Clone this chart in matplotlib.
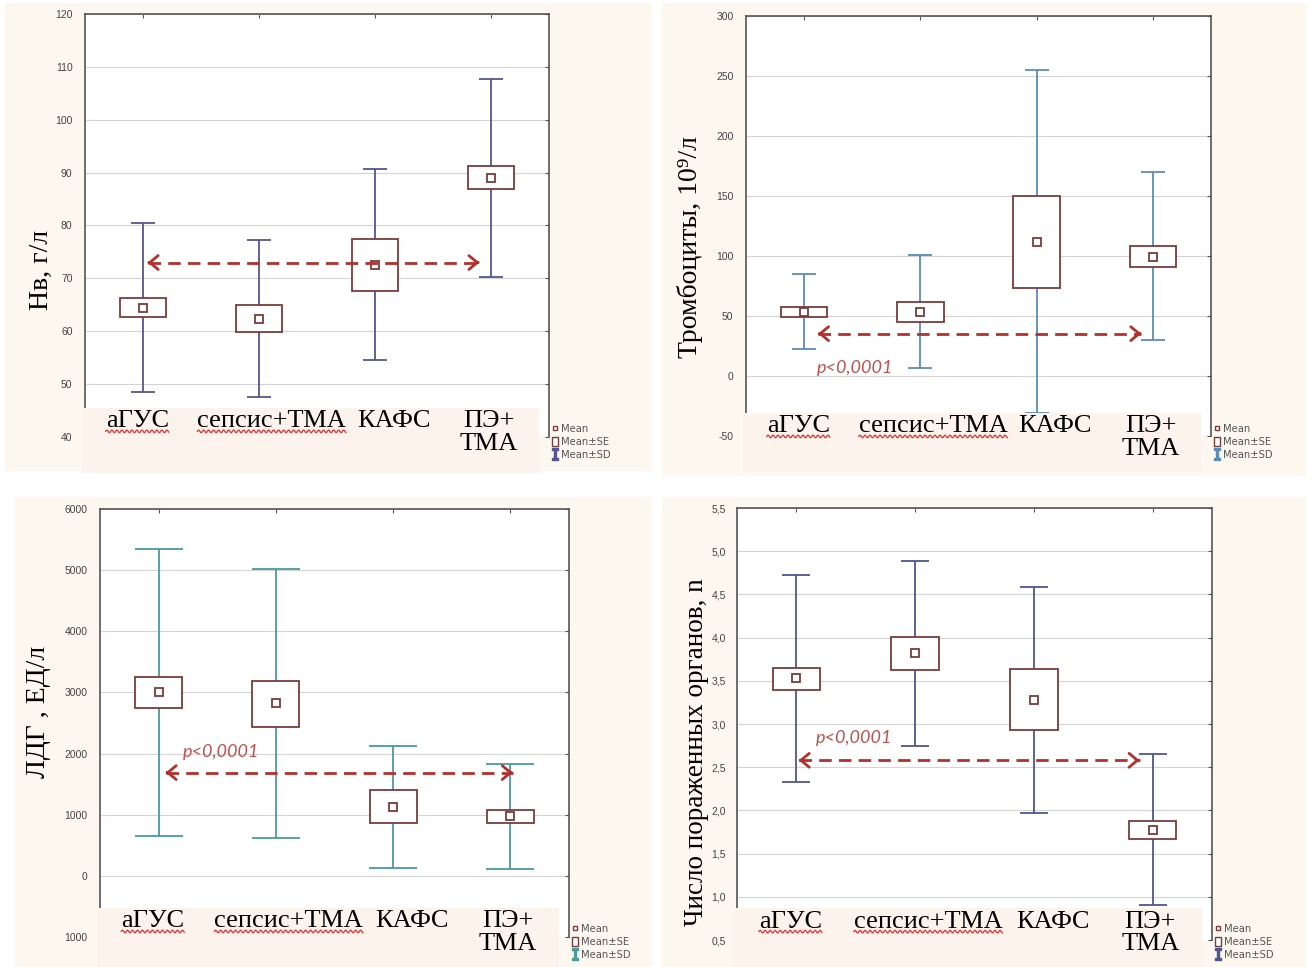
import numpy as np
import matplotlib

matplotlib.use("Agg")
import matplotlib.pyplot as plt  # noqa: E402
from matplotlib.patches import Rectangle  # noqa: E402
from matplotlib.lines import Line2D  # noqa: E402
from matplotlib.transforms import IdentityTransform  # noqa: E402

W, H = 1311, 967

categories = ["аГУС", "сепсис+ТМА", "КАФС", "ПЭ+\nТМА"]
x_pos = [1, 2, 3, 4]
label_dx = [-0.05, 0.11, 0.16, -0.02]
underlined = [0, 1]

# Hb, g/l
hb_mean = [64.4, 62.3, 72.5, 89.0]
hb_se_lo = [62.7, 59.9, 67.7, 86.9]
hb_se_hi = [66.2, 64.9, 77.5, 91.3]
hb_sd_lo = [48.5, 47.6, 54.5, 70.2]
hb_sd_hi = [80.5, 77.2, 90.6, 107.7]
hb_ticks = [40, 50, 60, 70, 80, 90, 100, 110, 120]
hb_ticklabels = [str(t) for t in hb_ticks]

# platelets, 10^9/l
plt_mean = [53.3, 53.6, 111.9, 99.2]
plt_se_lo = [49.4, 45.3, 73.6, 91.1]
plt_se_hi = [57.8, 61.9, 149.7, 108.3]
plt_sd_lo = [22.2, 6.9, -30.6, 30.0]
plt_sd_hi = [84.7, 100.6, 254.7, 170.0]
plt_ticks = [-50, 0, 50, 100, 150, 200, 250, 300]
plt_ticklabels = [str(t) for t in plt_ticks]

# LDH, U/l
ldh_mean = [3000, 2825, 1126, 973]
ldh_se_lo = [2738, 2437, 869, 869]
ldh_se_hi = [3257, 3186, 1399, 1082]
ldh_sd_lo = [645, 617, 131, 115]
ldh_sd_hi = [5350, 5022, 2126, 1836]
ldh_ticks = [-1000, 0, 1000, 2000, 3000, 4000, 5000, 6000]
ldh_ticklabels = ["1000", "0", "1000", "2000", "3000", "4000", "5000", "6000"]

# number of affected organs
org_mean = [3.53, 3.82, 3.28, 1.77]
org_se_lo = [3.39, 3.63, 2.93, 1.67]
org_se_hi = [3.65, 4.01, 3.64, 1.88]
org_sd_lo = [2.33, 2.75, 1.97, 0.91]
org_sd_hi = [4.72, 4.89, 4.59, 2.65]
org_ticks = [0.5, 1.0, 1.5, 2.0, 2.5, 3.0, 3.5, 4.0, 4.5, 5.0, 5.5]
org_ticklabels = [f"{t:.1f}".replace(".", ",") for t in org_ticks]

BOX_C = "#7b3b3b"
ARROW_C = "#b3302c"
P_C = "#c0504d"
BG_C = "#fcf8ef"
BAND_C = "#fcf3ed"
SERIF = ["Liberation Serif", "DejaVu Serif"]


def frect(l, t, r, b):
    return [l / W, 1 - b / H, (r - l) / W, (b - t) / H]


def panel(fig, px, ylim, ticks, ticklabels, mean, se_lo, se_hi, sd_lo, sd_hi,
          wc, capsize, ylabel, ylab_xy, arrow_y, arrow_x, ptext, band_top, leg_y,
          ylab_size=20, tick_pad=9):
    ax = fig.add_axes(frect(*px))
    ax.set_facecolor("white")
    ax.set_xlim(0.5, 4.5)
    ax.set_ylim(*ylim)
    ax.set_yticks(ticks)
    ax.set_yticklabels(ticklabels, fontsize=7.5, color="#444444",
                       family="Liberation Sans")
    ax.set_xticks(x_pos)
    ax.set_xticklabels([])
    ax.tick_params(axis="y", left=False, right=True, direction="in", length=3,
                   pad=tick_pad, color="#555555")
    ax.tick_params(axis="x", bottom=False, top=True, direction="in", length=3,
                   color="#555555")
    ax.grid(axis="y", color="#d4d4d4", lw=0.8)
    ax.set_axisbelow(True)
    for s in ax.spines.values():
        s.set_color("#555555")
        s.set_linewidth(1.2)
    ax.spines["bottom"].set_visible(False)

    mean = np.array(mean)
    ax.errorbar(x_pos, mean, yerr=[mean - np.array(sd_lo), np.array(sd_hi) - mean],
                fmt="none", ecolor=wc, elinewidth=1.3, capsize=capsize,
                capthick=1.3, zorder=2)
    for x, lo, hi in zip(x_pos, se_lo, se_hi):
        ax.add_patch(Rectangle((x - 0.2, lo), 0.4, hi - lo, facecolor="white",
                               edgecolor=BOX_C, lw=1.3, zorder=3))
    ax.plot(x_pos, mean, "s", ms=5.5, mfc="white", mec=BOX_C, mew=1.3, zorder=4)

    # significance arrow
    ax.plot(arrow_x, [arrow_y, arrow_y], color=ARROW_C, lw=2.0, dashes=(4.5, 2.6),
            zorder=5)
    for xa, d in ((arrow_x[0], 0.04), (arrow_x[1], -0.04)):
        ax.annotate("", xy=(xa, arrow_y), xytext=(xa + d, arrow_y),
                    arrowprops=dict(arrowstyle="->,head_length=0.6,head_width=0.5",
                                    color=ARROW_C, lw=2.0), zorder=5)
    if ptext is not None:
        ax.text(ptext[0], ptext[1], "p<0,0001", color=P_C, style="italic",
                fontsize=13, family=["Lato", "DejaVu Sans"], ha="center",
                va="center", zorder=5)

    # label band covering the bottom of the plot
    ax.add_patch(Rectangle((-0.006, -0.085), 0.984, 0.085 + band_top,
                           transform=ax.transAxes, facecolor=BAND_C, edgecolor="none",
                           clip_on=False, zorder=6))
    texts = []
    for i, (x, lab) in enumerate(zip(x_pos, categories)):
        t = ax.text(x + label_dx[i], band_top - 0.006, lab,
                    transform=ax.get_xaxis_transform(),
                    ha="center", va="top", fontsize=19, family=SERIF,
                    linespacing=1.05, zorder=7, clip_on=False)
        texts.append(t)

    ax.set_ylabel(ylabel, fontsize=ylab_size, family=SERIF)
    ax.yaxis.set_label_coords(*ylab_xy)

    handles = [
        Line2D([], [], ls="none", marker="s", ms=3.5, mfc="white", mec=BOX_C, mew=1),
        Rectangle((0, 0), 1, 1, facecolor="white", edgecolor=BOX_C, lw=1),
        Line2D([], [], ls="none", marker=r"$\mathtt{I}$", ms=8, color=wc),
    ]
    ax.legend(handles, ["Mean", "Mean±SE", "Mean±SD"], loc="lower left",
              bbox_to_anchor=(1.006, leg_y), frameon=False, fontsize=7.2,
              labelcolor="#555555", handlelength=0.6, handleheight=1.0,
              handletextpad=0.3, labelspacing=0.3, borderpad=0.0,
              borderaxespad=0.0)
    return ax, texts


fig = plt.figure(figsize=(W / 100, H / 100), dpi=100)
for l, t, r, b in ((5, 3, 652, 471), (662, 3, 1306, 476),
                   (15, 497, 652, 967), (662, 497, 1306, 967)):
    fig.add_artist(Rectangle((l / W, 1 - b / H), (r - l) / W, (b - t) / H,
                             transform=fig.transFigure, facecolor=BG_C,
                             edgecolor="none", zorder=0))

all_texts = []
_, tx = panel(fig, (85, 14, 549, 437), (40, 120), hb_ticks, hb_ticklabels,
              hb_mean, hb_se_lo, hb_se_hi, hb_sd_lo, hb_sd_hi, "#55558f", 8.3,
              "Нв, г/л", (-0.066, 0.395), 73.0, [1.04, 3.9], None, 0.069, -0.054)
all_texts += tx
_, tx = panel(fig, (746, 16, 1211, 436), (-50, 300), plt_ticks, plt_ticklabels,
              plt_mean, plt_se_lo, plt_se_hi, plt_sd_lo, plt_sd_hi, "#5a8cb5", 8.3,
              "Тромбоциты, 10⁹/л", (-0.093, 0.45), 35.3, [1.12, 3.9], (1.44, 6.9),
              0.055, -0.057)
all_texts += tx
_, tx = panel(fig, (100, 509, 569, 937), (-1000, 6000), ldh_ticks, ldh_ticklabels,
              ldh_mean, ldh_se_lo, ldh_se_hi, ldh_sd_lo, ldh_sd_hi, "#4a9a9e", 17,
              "ЛДГ , ЕД/л", (-0.104, 0.526), 1689, [1.06, 4.02], (1.53, 2027),
              0.068, -0.054)
all_texts += tx
_, tx = panel(fig, (737, 508, 1212, 940), (0.5, 5.5), org_ticks, org_ticklabels,
              org_mean, org_se_lo, org_se_hi, org_sd_lo, org_sd_hi, "#4f5590", 10,
              "Число пораженных органов, n", (-0.058, 0.435), 2.58, [1.02, 3.89],
              (1.49, 2.84), 0.074, -0.046, ylab_size=19.5, tick_pad=8)
all_texts += tx

# red spell-check squiggles under the first two labels of every panel
fig.canvas.draw()
for i, t in enumerate(all_texts):
    if i % 4 not in underlined:
        continue
    bb = t.get_window_extent()
    xs = np.arange(bb.x0, bb.x1, 0.5)
    ys = bb.y0 + 1.0 + 1.3 * np.sin((xs - bb.x0) / 5.0 * 2 * np.pi)
    fig.add_artist(Line2D(xs, ys, transform=IdentityTransform(), color="#e03030",
                          lw=0.9, zorder=8))

fig.savefig("out.png", dpi=100)
